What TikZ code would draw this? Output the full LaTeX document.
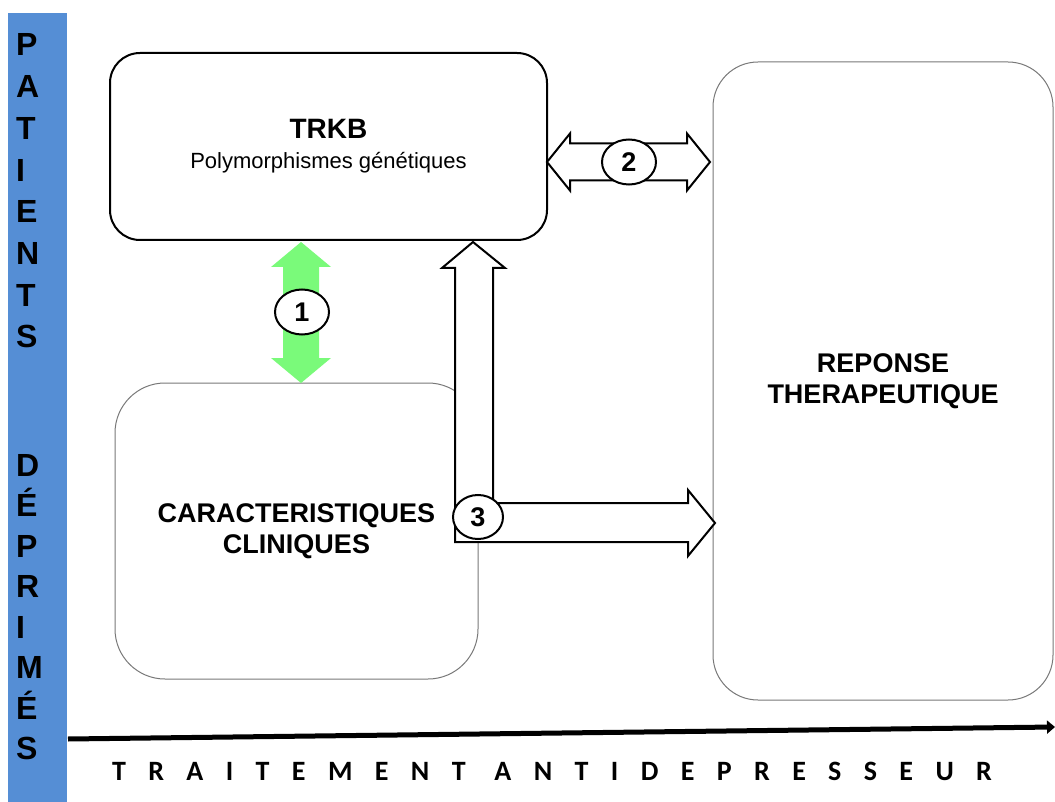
\documentclass[tikz,border=0pt]{standalone}
\usepackage{fontspec}
\setmainfont{Liberation Sans}
\newfontfamily\timefont[LetterSpace=80]{Carlito}
\usetikzlibrary{arrows.meta,shapes.geometric,positioning}

\definecolor{barblue}{RGB}{85,142,213}
\definecolor{arrgreen}{RGB}{122,250,122}
\definecolor{boxgray}{RGB}{120,120,120}

\tikzset{
    letter/.style={anchor=base west,inner sep=0pt,font=\fontsize{32}{32}\selectfont\bfseries},
    boxtext/.style={align=center,font=\fontsize{27}{31}\selectfont\bfseries},
    numcirc/.style={ellipse,draw,line width=2pt,fill=white,minimum width=54pt,minimum height=45pt,inner sep=0pt,font=\fontsize{27}{27}\selectfont\bfseries},
    blockarrow/.style={draw,line width=2pt,fill=white,line join=miter}
}

\begin{document}
\begin{tikzpicture}[x=1pt,y=-1pt]
    \useasboundingbox (0,0) rectangle (1055,802);

    % side bar
    \fill[barblue] (8,13) rectangle (67,802);
    \foreach \l [count=\i] in {P,A,T,I,E,N,T,S}
        \node[letter] (pa\i) at (16,{56+41.7*(\i-1)}) {\l};
    \foreach \l [count=\i] in {D,É,P,R,I,M,É,S}
        \node[letter] (de\i) at (16,{476+40.5*(\i-1)}) {\l};

    % boxes
    \node[draw,line width=2pt,rounded corners=30pt,minimum width=437pt,minimum height=187pt,align=center,font=\fontsize{22}{30}\selectfont] (trkb) at (328.5,146.5)
        {{\fontsize{28}{30}\selectfont\bfseries TRKB}\\ Polymorphismes génétiques};
    \node[draw=boxgray,line width=1pt,rounded corners=50pt,minimum width=363pt,minimum height=296pt,boxtext] (clin) at (296.5,531)
        {CARACTERISTIQUES\\CLINIQUES};
    \node[draw=boxgray,line width=1pt,rounded corners=45pt,minimum width=340pt,minimum height=638pt,boxtext] (rep) at (883,381)
        {REPONSE\\THERAPEUTIQUE};

    % arrow 1
    \fill[arrgreen] (301,242) -- (331,267) -- (319,267) -- (319,358) -- (331,358) -- (301,383)
        -- (271,358) -- (283,358) -- (283,267) -- (271,267) -- cycle;
    \node[numcirc] (n1) at (302,312) {1};

    % arrow 2
    \draw[blockarrow] (547,162) -- (570,133.5) -- (570,143.5) -- (687,143.5) -- (687,133.5) -- (710,162)
        -- (687,190.5) -- (687,180.5) -- (570,180.5) -- (570,190.5) -- cycle;
    \node[numcirc] (n2) at (629,162) {2};

    % arrow 3
    \draw[blockarrow] (455,542) -- (455,268) -- (442,268) -- (473,242) -- (505,268) -- (493,268)
        -- (493,503) -- (688,503) -- (688,490) -- (715,523) -- (688,556) -- (688,542) -- cycle;
    \node[numcirc,minimum width=50pt,minimum height=44pt] (n3) at (478,517) {3};

    % time axis
    \coordinate (t0) at (68,739);
    \coordinate (t1) at (1055,727);
    \draw[line width=5pt,-{Triangle[length=8pt,width=13pt]}] (t0) -- (t1);
    \node[font=\timefont\fontsize{28}{28}\selectfont\bfseries] (axis) at (552,771) {TRAITEMENT ANTIDEPRESSEUR};
\end{tikzpicture}
\end{document}
